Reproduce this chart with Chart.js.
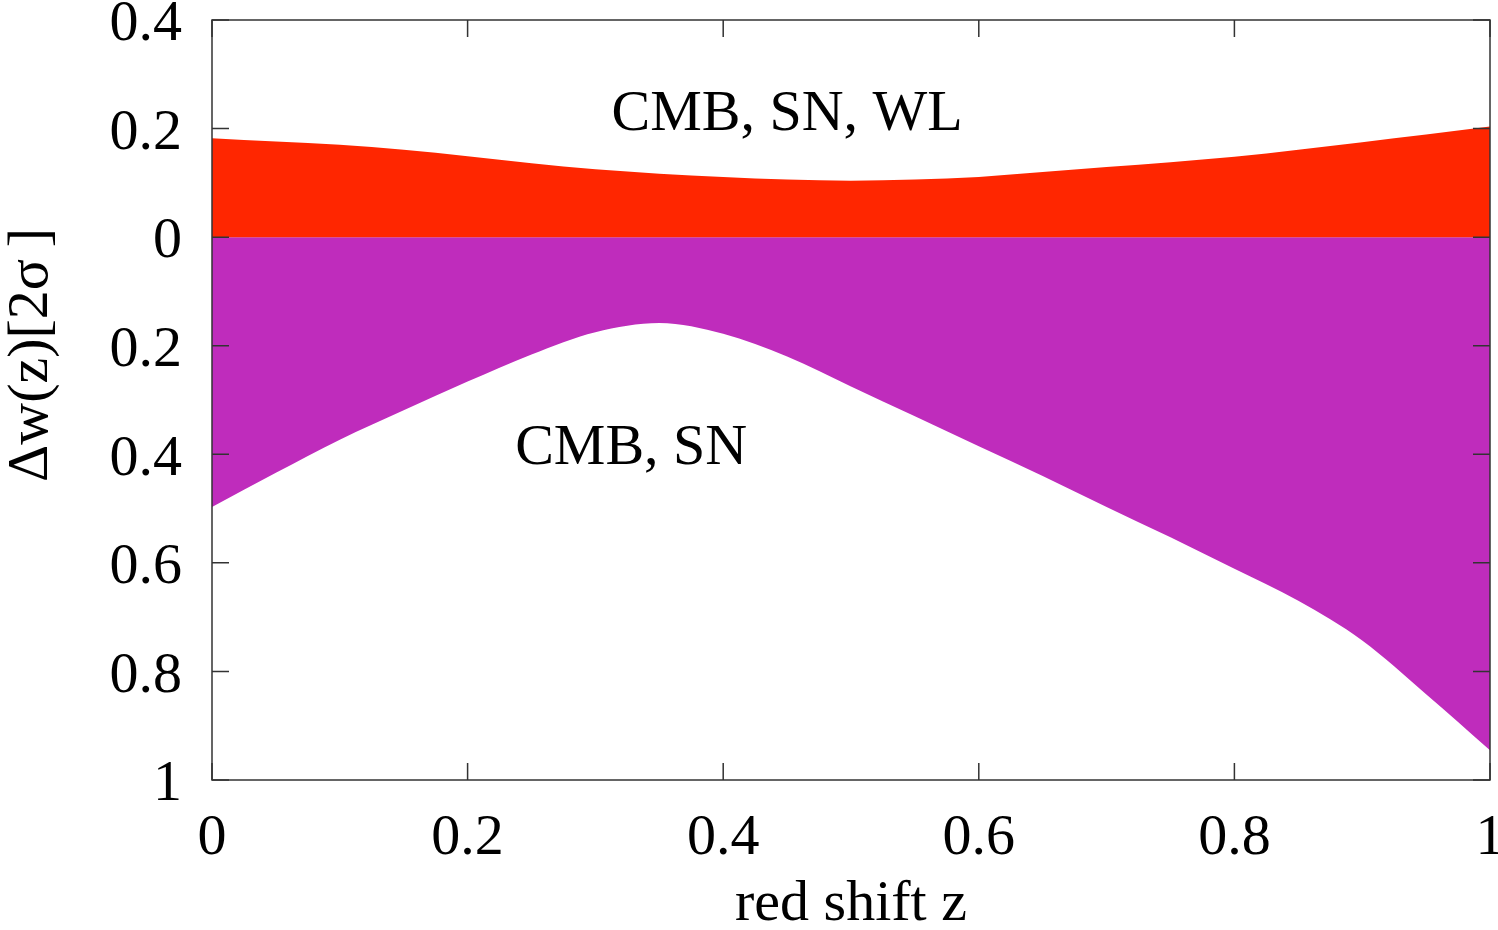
<!DOCTYPE html>
<html>
<head>
<meta charset="utf-8">
<script src="https://cdn.jsdelivr.net/npm/chart.js@4.4.0/dist/chart.umd.min.js"></script>
<style>
  html, body { margin: 0; padding: 0; background: #fff; }
</style>
</head>
<body>
<canvas id="myChart" width="1498" height="930"></canvas>
<script>
// red shift samples
const redshift = [0, 0.05, 0.1, 0.15, 0.2, 0.25, 0.3, 0.35, 0.4, 0.45, 0.5,
                  0.55, 0.6, 0.65, 0.7, 0.75, 0.8, 0.85, 0.9, 0.95, 1];
// upper 2 sigma edge, CMB + SN + WL
const upperEdge = [0.182, 0.176, 0.170, 0.161, 0.149, 0.136, 0.125, 0.117, 0.111, 0.106, 0.104,
                   0.106, 0.111, 0.120, 0.129, 0.138, 0.148, 0.161, 0.175, 0.189, 0.204];
// lower 2 sigma edge, CMB + SN
const lowerEdge = [-0.497, -0.434, -0.373, -0.319, -0.266, -0.216, -0.175, -0.158, -0.178, -0.220, -0.275,
                   -0.330, -0.385, -0.440, -0.497, -0.553, -0.611, -0.670, -0.743, -0.842, -0.945];
const xTicks = [0, 0.2, 0.4, 0.6, 0.8, 1];
const yTicks = [0.4, 0.2, 0, -0.2, -0.4, -0.6, -0.8, -1];
const bandNames = ['CMB, SN, WL', 'CMB, SN'];

const FONT = '"Liberation Serif", "Times New Roman", serif';
const TICK = 17;
Chart.defaults.font.family = FONT;
Chart.defaults.color = '#000';

// border, inward ticks on all sides, band names and y title
const frameAndLabels = {
    id: 'frameAndLabels',
    afterDatasetsDraw(chart) {
        const { ctx, chartArea: a, scales: { x, y } } = chart;
        ctx.save();
        ctx.strokeStyle = '#333';
        ctx.lineWidth = 1.5;
        ctx.strokeRect(a.left, a.top, a.right - a.left, a.bottom - a.top);
        ctx.beginPath();
        x.ticks.forEach(t => {
            const px = x.getPixelForValue(t.value);
            ctx.moveTo(px, a.bottom); ctx.lineTo(px, a.bottom - TICK);
            ctx.moveTo(px, a.top); ctx.lineTo(px, a.top + TICK);
        });
        y.ticks.forEach(t => {
            const py = y.getPixelForValue(t.value);
            ctx.moveTo(a.left, py); ctx.lineTo(a.left + TICK, py);
            ctx.moveTo(a.right, py); ctx.lineTo(a.right - TICK, py);
        });
        ctx.stroke();

        ctx.fillStyle = '#000';
        ctx.font = '58px ' + FONT;
        ctx.textAlign = 'center';
        ctx.textBaseline = 'middle';
        ctx.fillText(bandNames[0], x.getPixelForValue(0.45), y.getPixelForValue(0.226));
        ctx.fillText(bandNames[1], x.getPixelForValue(0.328), y.getPixelForValue(-0.39));

        ctx.translate(32, (a.top + a.bottom) / 2 - 45);
        ctx.rotate(-Math.PI / 2);
        ctx.fillText('\u0394w(z)[2\u03c3\u2009]', 0, 0);
        ctx.restore();
    }
};

const ctx = document.getElementById('myChart').getContext('2d');

const myChart = new Chart(ctx, {
    type: 'line',
    data: {
        datasets: [{
            label: bandNames[0],
            data: redshift.map((z, i) => ({ x: z, y: upperEdge[i] })),
            backgroundColor: 'rgb(255, 38, 0)',
            borderWidth: 0,
            pointRadius: 0,
            fill: 'origin',
            cubicInterpolationMode: 'monotone'
        }, {
            label: bandNames[1],
            data: redshift.map((z, i) => ({ x: z, y: lowerEdge[i] })),
            backgroundColor: 'rgb(191, 44, 188)',
            borderWidth: 0,
            pointRadius: 0,
            fill: 'origin',
            cubicInterpolationMode: 'monotone'
        }]
    },
    options: {
        responsive: false,
        animation: false,
        layout: { padding: { top: 20, right: 8, left: 0, bottom: 0 } },
        plugins: {
            legend: { display: false },
            tooltip: { enabled: false }
        },
        scales: {
            x: {
                type: 'linear',
                min: 0,
                max: 1,
                afterBuildTicks: s => { s.ticks = xTicks.map(v => ({ value: v })); },
                afterFit: s => { s.height = 150; s.paddingLeft = 0; s.paddingRight = 0; },
                grid: { display: false, drawTicks: false },
                border: { display: false },
                ticks: {
                    font: { size: 58 },
                    padding: 24,
                    maxRotation: 0,
                    callback: v => String(Math.round(v * 10) / 10)
                },
                title: {
                    display: true,
                    text: 'red shift z',
                    font: { size: 58 },
                    padding: { top: 0, bottom: -10 }
                }
            },
            y: {
                type: 'linear',
                min: -1,
                max: 0.4,
                afterBuildTicks: s => { s.ticks = yTicks.map(v => ({ value: v })); },
                afterFit: s => { s.width = 212; s.paddingTop = 0; s.paddingBottom = 0; },
                grid: { display: false, drawTicks: false },
                border: { display: false },
                ticks: {
                    font: { size: 58 },
                    padding: 30,
                    labelOffset: 5,
                    callback: v => String(Math.abs(Math.round(v * 10) / 10))
                }
            }
        }
    },
    plugins: [frameAndLabels]
});
</script>
</body>
</html>
